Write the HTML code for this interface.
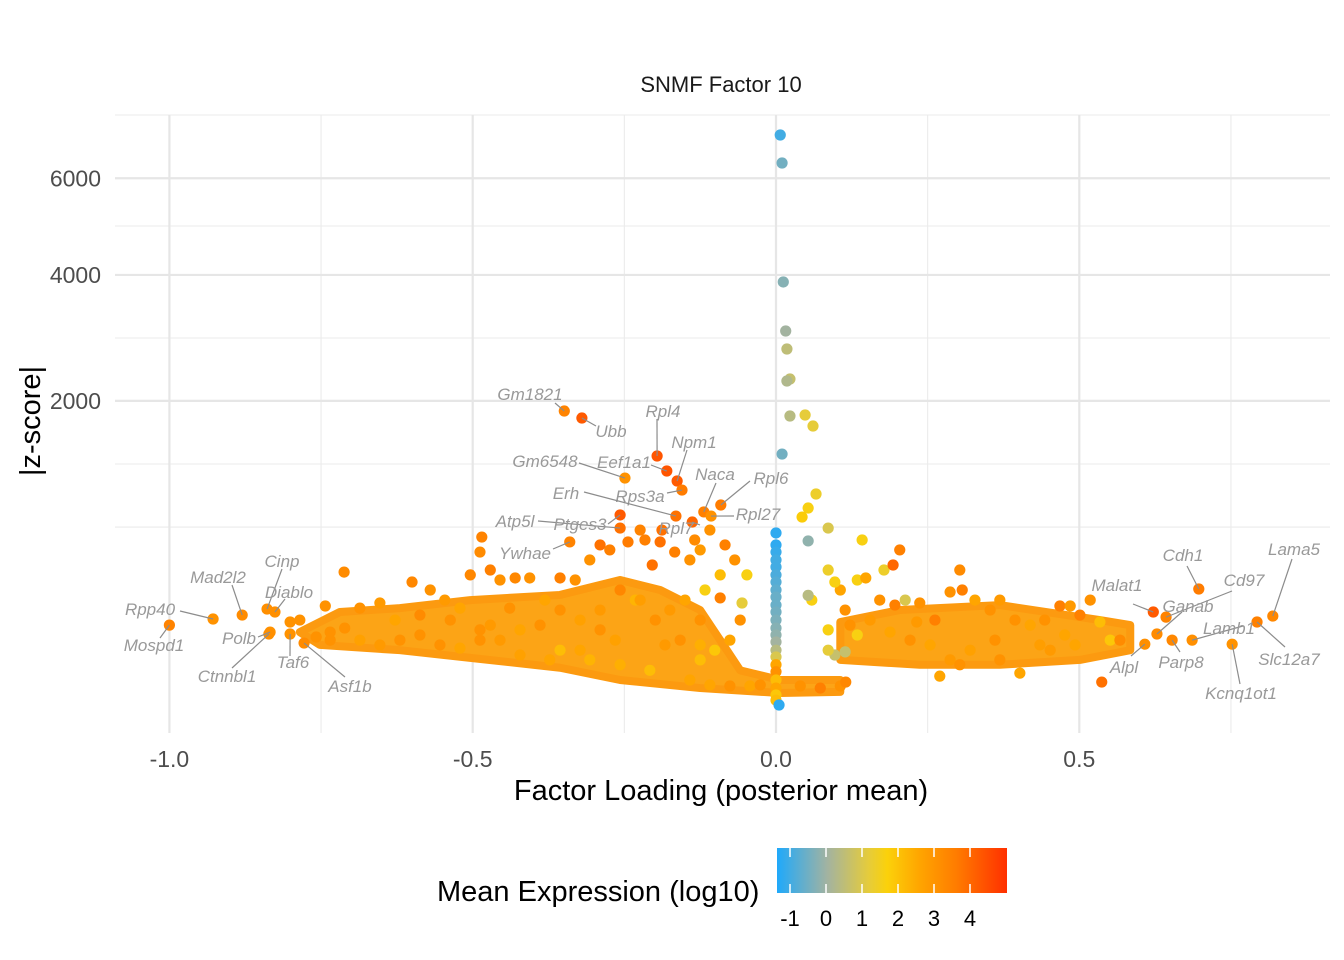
<!DOCTYPE html>
<html><head><meta charset="utf-8"><style>
body{margin:0;background:#fff;}
svg{display:block;font-family:"Liberation Sans",sans-serif;}
</style></head><body>
<svg id="chart" width="1344" height="960" xmlns="http://www.w3.org/2000/svg">
<defs><linearGradient id="cbar" x1="0" x2="1" y1="0" y2="0">
<stop offset="0" stop-color="#1fa9fb"/><stop offset="0.22" stop-color="#a3b3a0"/><stop offset="0.40" stop-color="#e6cc3a"/><stop offset="0.48" stop-color="#fbd10a"/><stop offset="0.62" stop-color="#ffa500"/><stop offset="0.78" stop-color="#ff7c00"/><stop offset="1" stop-color="#ff3000"/></linearGradient></defs>
<g id="grid"></g>
<g id="marks"></g>
<g id="labels"></g>
<text x="721" y="92" text-anchor="middle" font-size="22" fill="#1a1a1a">SNMF Factor 10</text>
<text x="721" y="800" text-anchor="middle" font-size="29" fill="#000">Factor Loading (posterior mean)</text>
<text transform="translate(40,421) rotate(-90)" text-anchor="middle" font-size="29" fill="#000">|z-score|</text>
<g id="legend">
<text x="437" y="901" font-size="29" fill="#000">Mean Expression (log10)</text>
<rect x="777" y="848" width="230" height="45" fill="url(#cbar)"/>
</g>
</svg>
<script>
const xTicks=[-1.0,-0.5,0.0,0.5];
const xTickLabels=["-1.0","-0.5","0.0","0.5"];
const xMinor=[-0.75,-0.25,0.25,0.75];
const yTicks=[2000,4000,6000];
const yTickLabels=["2000","4000","6000"];
const yMinor=[685,1256,2913,4962,7528];
const legendTicks=[-1,0,1,2,3,4];
// dense point band outlines (loading, z)
const bandLeftX=[-0.785,-0.719,-0.620,-0.504,-0.356,-0.257,-0.191,-0.125,-0.092,-0.059,0.007,0.106,0.106,0.007,-0.125,-0.257,-0.356,-0.504,-0.620,-0.752];
const bandLeftZ=[115,187,203,238,262,338,286,195,91,26,13.5,13.5,3.7,3.1,6.2,13.5,30,48,65,78];
const bandRightX=[0.106,0.204,0.369,0.534,0.584,0.584,0.501,0.369,0.237,0.106];
const bandRightZ=[149,195,216,156,138,65,44,35,35,44];
// unlabeled points
const ptX=[-0.758,-0.735,-0.711,-0.743,-0.712,-0.686,-0.653,-0.628,-0.600,-0.570,-0.546,-0.521,-0.504,-0.485,-0.488,-0.471,-0.455,-0.430,-0.406,-0.381,-0.356,-0.331,-0.307,-0.290,-0.274,-0.244,-0.216,-0.191,-0.167,-0.142,-0.125,-0.109,-0.084,-0.068,-0.048,-0.056,-0.134,-0.188,-0.224,-0.204,-0.257,-0.290,-0.323,-0.356,-0.389,-0.422,-0.455,-0.488,-0.521,-0.554,-0.587,-0.620,-0.653,-0.686,-0.735,-0.356,-0.307,-0.257,-0.208,-0.158,-0.125,-0.101,-0.076,-0.125,-0.142,-0.109,-0.076,-0.043,-0.026,0.040,0.073,0.106,0.115,-0.125,-0.092,-0.059,-0.092,-0.117,-0.150,-0.175,-0.199,-0.232,-0.265,-0.290,-0.323,-0.373,-0.422,-0.471,-0.537,-0.587,-0.785,-0.801,-0.488,-0.439,-0.224,-0.183,
0.097,0.134,0.142,0.178,0.193,0.204,0.148,0.171,0.196,0.213,0.237,0.262,0.287,0.307,0.303,0.328,0.353,0.369,0.394,0.419,0.443,0.468,0.485,0.501,0.518,0.534,0.551,0.567,0.122,0.155,0.188,0.221,0.254,0.287,0.320,0.361,0.402,0.452,0.493,0.134,0.086,0.114,0.106,0.232,0.270,0.303,0.369,0.435,0.476,0.086,0.086,0.059,0.097,0.114,0.537,
0,0,0,0,0,0,0,0,0,0,0,0,0,0,0,0,0,0,0,0,0,0,0,
0.005,0.007,0.010,0.012,0.016,0.018,0.023,0.018,0.023,0.048,0.061,0.010,0.066,0.053,0.043,0.086,0.053,0.053];
const ptZ=[100,115,128,212,382,203,225,156,327,286,238,203,366,610,506,394,338,349,349,238,349,338,455,554,520,575,589,575,506,455,520,662,554,455,366,225,589,662,662,424,286,195,156,195,138,122,91,91,70,78,106,91,78,91,91,65,44,35,26,91,156,65,91,44,13.5,8.7,7.8,7.8,8.7,7.8,6.2,7.8,11.4,78,248,156,366,286,238,195,156,238,91,122,65,44,54,138,156,175,156,149,122,203,238,78,54,
338,589,394,424,520,349,238,216,238,225,156,276,286,394,238,195,238,156,138,156,212,212,175,238,149,91,91,138,156,115,91,78,44,65,91,22,65,78,106,65,61,286,149,18,35,44,78,106,122,394,238,327,195,11.4,640,
554,506,455,412,366,327,286,252,216,187,156,128,106,86,65,50,35,24,13.5,6.2,2.2,0.5,0,
7026,6353,3870,3025,2741,2298,2270,1806,1819,1683,1362,963,839,764,677,582,260,212];
const ptE=[3,3,3,3,3.2,3,2.8,2.5,3.3,3,2.8,2.5,3.3,3.4,3.2,3.5,3,3.3,3,2.5,3.5,3,3,3.8,3.5,3.6,3.5,3.8,3.5,3,2.8,3,3.5,3,1.5,1,3.2,3.8,3.4,3.8,3.3,2.8,2.6,3,3,2.5,2.8,3,2.5,3,3,3,2.8,2.6,3,2,2.2,2.3,2,3,3,1.8,2.5,2,2.5,2.5,3,2.5,3,3,3.5,3,3.3,2.3,3.5,3,2,1.5,2.5,2.8,3,2.2,2.6,3,2.5,2.5,2.6,2.8,3,3.2,3,3,3,3,2.7,2.8,
0.5,1.5,1.5,1.2,4,3.5,2.5,3,3.5,0.8,3,3.5,3,3.5,3.2,2.5,3,2.8,3,2.5,3,3.5,2.8,3.5,3,2,1.8,3.2,3,2.8,2.5,3,2.5,2.8,2.6,3,2.5,2.8,2.5,1.5,1,0.5,2.5,2.8,2.5,3,3,2.7,2.5,1.5,1.2,1.5,1.5,3,3.8,
-1.2,-1.2,-1.1,-1,-1,-0.9,-0.8,-0.7,-0.6,-0.6,-0.5,-0.4,-0.3,-0.2,0,0.3,0.8,2.5,3,2,2.5,1.8,2,
-1.2,-1,-0.5,-0.3,0,0.4,0.5,0.2,0.3,1,1,-0.5,1.2,1.5,1.7,0.8,-0.2,0.3];
// labeled genes
const geneNames=["Gm1821","Ubb","Rpl4","Eef1a1","Npm1","Rps3a","Gm6548","Erh","Naca","Rpl6","Rpl27","Rpl7","Atp5l","Ptges3","Ywhae","Rpp40","Mospd1","Mad2l2","Cinp","Diablo","Polb","Ctnnbl1","Taf6","Asf1b","Cdh1","Lama5","Slc12a7","Cd97","Malat1","Ganab","Alpl","Parp8","Lamb1","Kcnq1ot1"];
const geneX=[-0.349,-0.320,-0.196,-0.180,-0.163,-0.155,-0.249,-0.165,-0.119,-0.091,-0.107,-0.138,-0.257,-0.257,-0.340,-0.928,-1.0,-0.880,-0.839,-0.826,-0.834,-0.836,-0.801,-0.778,0.697,0.819,0.793,0.643,0.622,0.628,0.608,0.653,0.686,0.752];
const geneZ=[1869,1781,1341,1184,1085,999,1114,772,806,865,772,724,677,781,575,160,138,175,199,187,115,109,109,83,291,171,149,167,187,109,80,91,91,80];
const geneE=[3.4,4.2,4.3,4.3,4.2,3.6,3.0,3.8,3.5,3.6,3.0,4.0,3.8,4.2,3.4,3.0,3.4,3.2,3.1,3.1,3.0,3.1,3.0,3.2,3.6,3.3,3.5,3.4,4.2,3.2,3.1,3.3,3.1,3.0];
// label layout (text position, anchor)
const labPos=[[530,400],[611,437],[663,417],[624,468],[694,448],[640,502],[545,467],[566,499],[715,480],[771,484],[758,520],[676,534],[515,527],[580,530],[525,559],[150,615],[154,651],[218,583],[282,567],[289,598],[239,644],[227,682],[293,668],[350,692],[1183,561],[1294,555],[1289,665],[1244,586],[1117,591],[1188,612],[1124,673],[1181,668],[1229,634],[1241,699]];
const lineEnd=[[555,403],[596,426],[657,419],[651,465],[687,450],[667,493],[579,463],[584,492],[716,483],[750,481],[734,516],[700,525],[538,521],[608,524],[553,549],[180,611],[160,638],[232,585],[282,569],[285,599],[258,637],[232,668],[290,656],[345,677],[1187,566],[1292,559],[1285,647],[1232,591],[1133,604],[1182,612],[1131,656],[1180,652],[1243,626],[1240,684]];

const NS="http://www.w3.org/2000/svg";
const X0=776,XS=606.6,Y0=705,YS=6.8;
function xs(v){return X0+v*XS;}
function ys(z){return Y0-YS*Math.sqrt(Math.max(z,0));}
const cStops=[[-1.36,[31,169,251]],[0,[163,179,160]],[1,[230,204,58]],[1.6,[251,209,10]],[2.5,[255,165,0]],[3.6,[255,124,0]],[4.96,[255,48,0]]];
function col(e){
  if(e<=cStops[0][0])return "rgb("+cStops[0][1]+")";
  for(let i=1;i<cStops.length;i++){if(e<=cStops[i][0]){const a=cStops[i-1],b=cStops[i],t=(e-a[0])/(b[0]-a[0]);
    return "rgb("+a[1].map((c,k)=>Math.round(c+(b[1][k]-c)*t)).join(",")+")";}}
  return "rgb("+cStops[cStops.length-1][1]+")";
}
function mk(tag,attrs,parent){const el=document.createElementNS(NS,tag);for(const k in attrs)el.setAttribute(k,attrs[k]);parent.appendChild(el);return el;}
const grid=document.getElementById('grid'),marks=document.getElementById('marks'),labels=document.getElementById('labels'),legend=document.getElementById('legend');
const L=115,R=1330,T=115,B=733;
yMinor.forEach(v=>{const l=mk('line',{x1:L,x2:R,y1:ys(v),y2:ys(v),stroke:'#ebebeb','stroke-width':1.1},grid);

});
xMinor.forEach(v=>{const l=mk('line',{x1:xs(v),x2:xs(v),y1:T,y2:B,stroke:'#ebebeb','stroke-width':1.1},grid);

});
yTicks.forEach((v,i)=>{const l=mk('line',{x1:L,x2:R,y1:ys(v),y2:ys(v),stroke:'#e6e6e6','stroke-width':2.2},grid);


const t=mk('text',{x:101,y:ys(v)+8,'text-anchor':'end','font-size':23,fill:'#4d4d4d'},grid);t.textContent=yTickLabels[i];

});
xTicks.forEach((v,i)=>{const l=mk('line',{x1:xs(v),x2:xs(v),y1:T,y2:B,stroke:'#e6e6e6','stroke-width':2.2},grid);


const t=mk('text',{x:xs(v),y:767,'text-anchor':'middle','font-size':23,fill:'#4d4d4d'},grid);t.textContent=xTickLabels[i];

});
function band(xa,za,name){const p=mk('polygon',{points:xa.map((x,i)=>xs(x)+','+ys(za[i])).join(' '),fill:'#fca416',stroke:'#fc9a10','stroke-width':8,'stroke-linejoin':'round'},marks);

}
band(bandLeftX,bandLeftZ,'dense-points-left');
band(bandRightX,bandRightZ,'dense-points-right');
ptX.forEach((x,i)=>{const c=mk('circle',{cx:xs(x),cy:ys(ptZ[i]),r:5.6,fill:col(ptE[i])},marks);

});
geneNames.forEach((g,i)=>{const px=xs(geneX[i]),py=ys(geneZ[i]);
const l=mk('line',{x1:lineEnd[i][0],y1:lineEnd[i][1],x2:px,y2:py,stroke:'#8c8c8c','stroke-width':1.2},labels);


const c=mk('circle',{cx:px,cy:py,r:5.6,fill:col(geneE[i])},marks);


const t=mk('text',{x:labPos[i][0],y:labPos[i][1],'text-anchor':'middle','font-size':17,'font-style':'italic',fill:'#999'},labels);t.textContent=g;

});
legendTicks.forEach(v=>{const x=790+(v+1)*36;
mk('line',{x1:x,x2:x,y1:848,y2:857,stroke:'#fff','stroke-width':1.5},legend);
mk('line',{x1:x,x2:x,y1:884,y2:893,stroke:'#fff','stroke-width':1.5},legend);
const t=mk('text',{x:x,y:926,'text-anchor':'middle','font-size':22,fill:'#000'},legend);t.textContent=String(v);

});
</script>
</body></html>
